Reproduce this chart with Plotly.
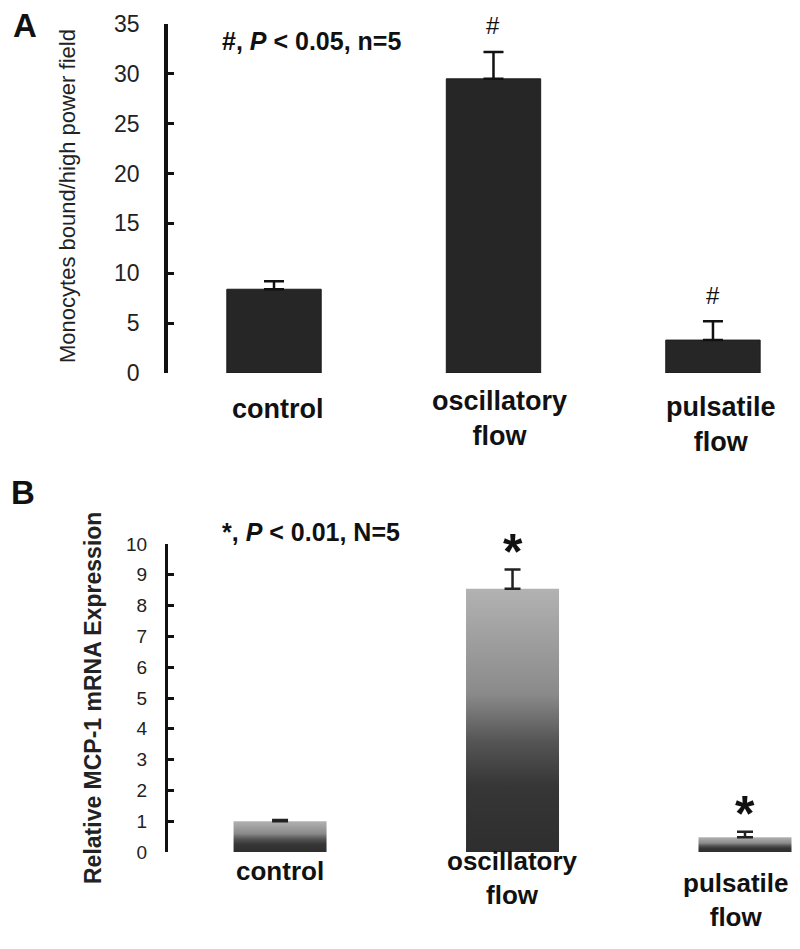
import plotly.graph_objects as go

# ---------------- data ----------------
categories = ["control", "oscillatory flow", "pulsatile flow"]
cat_labels = ["control", "oscillatory<br>flow", "pulsatile<br>flow"]

monocytes_mean = [8.4, 29.5, 3.3]
monocytes_err = [0.8, 2.7, 1.9]
monocytes_marks = ["", "#", "#"]

mcp1_mean = [1.0, 8.55, 0.48]
mcp1_err = [0.04, 0.62, 0.18]
mcp1_marks = ["", "*", "*"]

a_ticks = [0, 5, 10, 15, 20, 25, 30, 35]
b_ticks = [0, 1, 2, 3, 4, 5, 6, 7, 8, 9, 10]

W, H = 800, 949
OFF = 8  # page body offset
FONT = "Liberation Sans, Arial, sans-serif"


def px(x):
    return (x - OFF) / W


def py(y):
    return 1 - (y - OFF) / H


idx = list(range(len(categories)))
fig = go.Figure()

# ---------------- panel A ----------------
fig.add_trace(go.Bar(
    x=idx, y=monocytes_mean, width=0.43,
    marker=dict(color="#262626", line=dict(color="#1c1c1c", width=1)),
    error_y=dict(type="data", array=monocytes_err, arrayminus=[0] * 3,
                 symmetric=False, color="#111111", thickness=2.5, width=10),
    xaxis="x", yaxis="y", showlegend=False, hovertext=categories,
))

# ---------------- panel B (gradient bars) ----------------
bw = 0.40
grad = [[0.0, "#2e2e2e"], [0.25, "#363636"], [0.42, "#555555"],
        [0.6, "#8a8a8a"], [1.0, "#b2b2b2"]]
for i, v in zip(idx, mcp1_mean):
    fig.add_trace(go.Scatter(
        x=[i - bw / 2, i + bw / 2, i + bw / 2, i - bw / 2, i - bw / 2],
        y=[0, 0, v, v, 0],
        mode="lines", fill="toself", line=dict(width=0, color="rgba(0,0,0,0)"),
        fillgradient=dict(type="vertical", colorscale=grad),
        xaxis="x2", yaxis="y2", showlegend=False, hoverinfo="skip",
    ))
fig.add_trace(go.Scatter(
    x=idx, y=mcp1_mean, mode="markers",
    marker=dict(size=1, color="rgba(0,0,0,0)"),
    error_y=dict(type="data", array=mcp1_err, arrayminus=[0] * 3,
                 symmetric=False, color="#222222", thickness=2.5, width=8),
    xaxis="x2", yaxis="y2", showlegend=False, hovertext=categories,
))

# ---------------- axes ----------------
fig.update_layout(
    width=W, height=H,
    margin=dict(l=0, r=0, t=0, b=0, autoexpand=False),
    paper_bgcolor="white", plot_bgcolor="white",
    font=dict(family=FONT, color="#111111"),
    showlegend=False,
    xaxis=dict(domain=[px(168), 1], range=[-0.483, 2.433], visible=False,
               anchor="y", automargin=False),
    yaxis=dict(domain=[py(373), py(24)], range=[0, 35], tickvals=a_ticks,
               showline=True, linecolor="#111111", linewidth=3.5,
               ticks="inside", ticklen=6, tickwidth=3, tickcolor="#111111",
               showgrid=False, zeroline=False, ticklabelstandoff=20,
               tickfont=dict(size=23, family=FONT, color="#222222"),
               anchor="x", automargin=False),
    xaxis2=dict(domain=[px(168), 1], range=[-0.482, 2.271], visible=False,
                anchor="y2", automargin=False),
    yaxis2=dict(domain=[py(852), py(544)], range=[0, 10], tickvals=b_ticks,
                showline=True, linecolor="#111111", linewidth=3,
                ticks="inside", ticklen=6, tickwidth=3, tickcolor="#111111",
                showgrid=False, zeroline=False, ticklabelstandoff=14,
                tickfont=dict(size=19, family=FONT, color="#222222"),
                anchor="x2", automargin=False),
)


def note(text, x, y, size, xanchor="center", angle=0, color="#111"):
    return dict(text=text, x=px(x), y=py(y), xref="paper", yref="paper",
                xanchor=xanchor, yanchor="middle", showarrow=False,
                textangle=angle, font=dict(size=size, family=FONT, color=color))


ann = []
ann.append(note("<b>A</b>", 25, 26, 33))
ann.append(note("<b>B</b>", 23, 492, 33))
ann.append(note("Monocytes bound/high power field", 67, 196, 22, angle=-90,
                color="#222"))
ann.append(note("<b>Relative MCP-1 mRNA Expression</b>", 93, 698, 23, angle=-90,
                color="#222"))
ann.append(note("<b>#, <i>P</i> < 0.05, n=5</b>", 220, 41, 25, xanchor="left"))
ann.append(note("<b>*, <i>P</i> < 0.01, N=5</b>", 220, 532, 25, xanchor="left"))

# significance marks
for i, (m, e, s) in enumerate(zip(monocytes_mean, monocytes_err, monocytes_marks)):
    if s:
        ann.append(dict(text=s, x=i, y=m + e, xref="x", yref="y",
                        yanchor="middle", yshift=26, showarrow=False,
                        font=dict(size=24, family=FONT, color="#111")))
for i, (m, e, s) in enumerate(zip(mcp1_mean, mcp1_err, mcp1_marks)):
    if s:
        ann.append(dict(text="<b>" + s + "</b>", x=i, y=m + e, xref="x2", yref="y2",
                        yanchor="middle", yshift=18, showarrow=False,
                        font=dict(size=50, family=FONT, color="#111")))

# category labels (block centres, reference pixels)
a_label_y = [409, 418, 425]
b_label_y = [871, 878, 900]
a_label_dx = [4, 6, 8]
b_label_dx = [0, 0, -10]
for i, lab in enumerate(cat_labels):
    ann.append(dict(text="<b>" + lab + "</b>", x=i, y=py(a_label_y[i]), xref="x",
                    yref="paper", yanchor="middle", showarrow=False,
                    xshift=a_label_dx[i],
                    font=dict(size=27, family=FONT, color="#111")))
    ann.append(dict(text="<b>" + lab + "</b>", x=i, y=py(b_label_y[i]), xref="x2",
                    yref="paper", yanchor="middle", showarrow=False,
                    xshift=b_label_dx[i],
                    font=dict(size=26, family=FONT, color="#111")))
fig.update_layout(annotations=ann)

fig.write_html("out.html")
